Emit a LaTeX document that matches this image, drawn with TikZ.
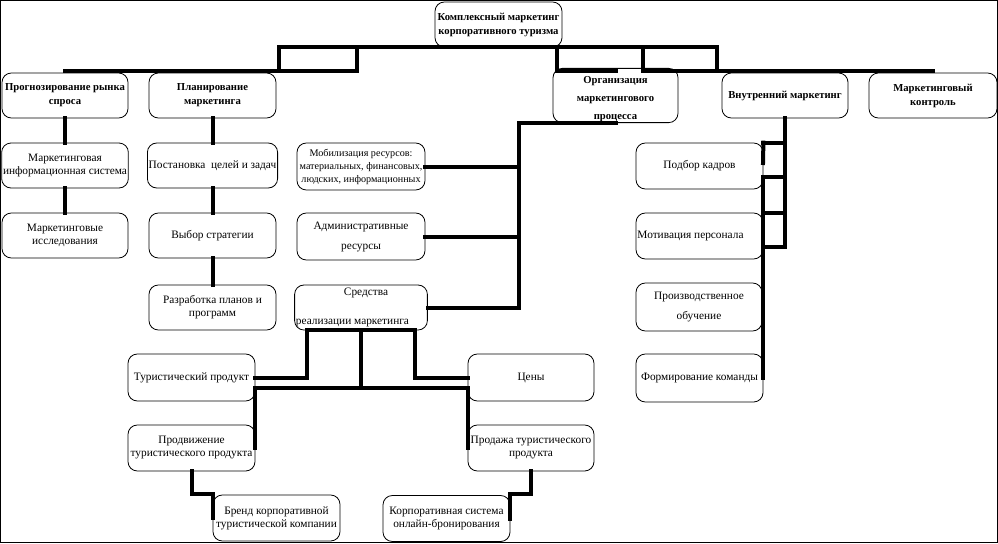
\documentclass[tikz,border=0pt]{standalone}
\usepackage{fontspec}
\setmainfont{Liberation Serif}
\begin{document}
\begin{tikzpicture}[x=0.75pt,y=-0.75pt,
  box/.style={draw, rounded corners=7pt, line width=0.6pt, inner sep=1pt, align=center,
    font=\fontsize{8.5}{9.75}\selectfont},
  bx/.style 2 args={box, minimum width={#1*0.75pt}, minimum height={#2*0.75pt}},
  hb/.style={font=\bfseries\fontsize{8}{10.5}\selectfont},
  conn/.style={line width=3pt, line cap=rect}]
\useasboundingbox (0,0) rectangle (998,543);
\draw[line width=0.75pt] (0.5,0.5) rectangle (997.5,542.5);

% level 0 and 1
\node[bx={127}{45}, hb] (top) at (498.5,24.5) {Комплексный маркетинг\\корпоративного туризма};
\node[bx={126}{45}, hb] (prog) at (65,95.5) {Прогнозирование рынка\\спроса};
\node[bx={127}{45}, hb] (plan) at (212.5,95.5) {Планирование\\маркетинга};
\node[bx={125}{45}, hb] (org) at (615.5,95.5) {\rule{0pt}{10pt}Организация\\[3pt]маркетингового\\[3pt]процесса};
\node[bx={126}{45}, hb] (inner) at (785,95.5) {Внутренний маркетинг};
\node[bx={128}{45}, hb] (ctrl) at (933,95.5) {Маркетинговый\\контроль};

% left column
\node[bx={126}{45}] (mis) at (65,165.5) {Маркетинговая\\информационная система};
\node[bx={126}{45}] (mres) at (65,235.5) {Маркетинговые\\исследования};

% planning column
\node[bx={127}{45}] (goals) at (212.5,165.5) {Постановка\ \ целей и задач};
\node[bx={127}{45}] (strat) at (212.5,235.5) {Выбор стратегии};
\node[bx={127}{45}] (plans) at (212.5,307.5) {Разработка планов и\\программ};

% organisation column
\node[bx={128}{47}, font=\fontsize{7.6}{9.75}\selectfont] (mob) at (361,166.5) {Мобилизация ресурсов:\\материальных, финансовых,\\людских, информационных};
\node[bx={128}{47}] (adm) at (361,236.5) {Административные\\[5.25pt]ресурсы};
\node[bx={128}{45}] (sred) at (361,307.5) {\hspace*{7.5pt}Средства\\[12pt]реализации маркетинга\hspace*{12.8pt}};

% internal marketing column
\node[bx={127}{46}] (staff) at (699.5,166) {Подбор кадров};
\node[bx={127}{46}] (motiv) at (699.5,236) {Мотивация персонала\hspace*{13.5pt}};
\node[bx={126}{48}] (train) at (699,307) {Производственное\\[5.25pt]обучение};
\node[bx={127}{48}] (team) at (699.5,378) {Формирование команды};

% means of marketing
\node[bx={127}{47}] (prod) at (191.5,377.5) {Туристический продукт};
\node[bx={126}{47}] (price) at (531,377.5) {Цены};
\node[bx={127}{46}] (promo) at (191.5,448) {Продвижение\\туристического продукта};
\node[bx={126}{46}] (sale) at (531,448) {Продажа туристического\\продукта};
\node[bx={127}{46}] (brand) at (276.5,518) {Бренд корпоративной\\туристической компании};
\node[bx={127}{46}] (online) at (446.5,518.5) {Корпоративная система\\онлайн-бронирования};

% helper coordinates
\coordinate (u1) at (279,47);
\coordinate (u2) at (357,47);
\coordinate (u3) at (557,47);
\coordinate (u4) at (643,47);
\coordinate (u5) at (717,47);
\coordinate (l71) at (0,71);
\coordinate (ox) at (519,0);
\coordinate (s1) at (307,330);
\coordinate (s2) at (415,330);
\coordinate (h388) at (0,388);
\coordinate (jb) at (0,494);
\coordinate (r2) at (0,177);
\coordinate (r4) at (0,247);
\coordinate (gapA) at (763,163);

% top buses
\draw[conn] (u1) -- (u5);
\draw[conn] (u1) -- (u1 |- l71);
\draw[conn] (u2) -- (u2 |- l71);
\draw[conn] (prog.north |- l71) -- (u2 |- l71);
\draw[conn] (u3) -- (u3 |- l71) -- (org.north |- l71);
\draw[conn] (u4) -- (u4 |- l71) -- (ctrl.north |- l71);
\draw[conn] (u5) -- (u5 |- l71);

% left columns
\draw[conn] (prog.south) -- (mis.north);
\draw[conn] (mis.south) -- (mres.north);
\draw[conn] (plan.south) -- (goals.north);
\draw[conn] (goals.south) -- (strat.north);
\draw[conn] (strat.south) -- (plans.north);

% organisation
\draw[conn] (org.south) -- (org.south -| ox) -- (ox |- sred.east) -- (sred.east);
\draw[conn] (mob.east) -- (mob.east -| ox);
\draw[conn] (adm.east) -- (adm.east -| ox);

% means
\draw[conn] (prod.east) -| (s1) -- (s2) |- (price.west);
\draw[conn] (sred.south) -- (sred.south |- h388);
\draw[conn] (promo.east) -- (promo.east |- h388) -- (sale.west |- h388) -- (sale.west);
\draw[conn] (promo.south) -- (promo.south |- jb) -- (brand.west |- jb) -- (brand.west);
\draw[conn] (sale.south) -- (sale.south |- jb) -- (online.east |- jb) -- (online.east);

% internal marketing ladder
\draw[conn] (inner.south) -- (inner.south |- r4);
\draw[conn] (staff.north east) -- (staff.north east -| inner.south);
\draw[conn] (staff.east |- r2) -- (r2 -| inner.south);
\draw[conn] (motiv.north east) -- (motiv.north east -| inner.south);
\draw[conn] (staff.east |- r4) -- (r4 -| inner.south);
\draw[conn] (staff.north east) -- (gapA);
\draw[conn] (staff.east |- r2) -- (team.east);
\end{tikzpicture}
\end{document}
